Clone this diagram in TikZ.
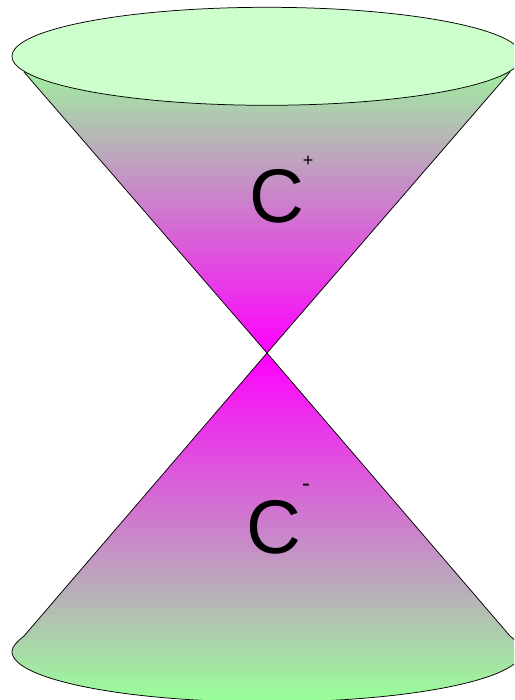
\documentclass[tikz,border=0pt]{standalone}
\usepackage{fontspec}
\setmainfont{Liberation Sans}
\definecolor{rimfill}{HTML}{CCFFCC}
\definecolor{conegreen}{HTML}{99FF99}
\definecolor{conemag}{HTML}{FF00FF}
\tikzset{
  outline/.style={draw=black,line width=0.75pt},
  bigletter/.style={inner sep=0pt,font=\fontsize{76}{76}\selectfont},
  smallsign/.style={inner sep=0pt,font=\fontsize{18}{18}\selectfont},
  dashsign/.style={inner sep=0pt,font=\fontsize{24}{24}\selectfont}
}
\begin{document}
\begin{tikzpicture}[x=1pt,y=-1pt]
\useasboundingbox (0,0) rectangle (514,700);
\clip (0,0) rectangle (514,700);
\coordinate (apex) at (267,353);
\coordinate (tl) at (24,72);
\coordinate (tr) at (510,72);
\coordinate (bl) at (24,636);
\coordinate (br) at (510,636);
% upper cone
\begin{scope}
  \clip (apex) -- (tl) -- (tr) -- cycle;
  \shade[top color=conegreen,bottom color=conemag] (0,50) rectangle (514,353);
\end{scope}
\draw[outline] (tl) -- (apex) -- (tr);
\draw[outline,fill=rimfill] (267,56.3) ellipse [x radius=255,y radius=49];
% lower cone
\begin{scope}
  \clip (apex) -- (br) .. controls (516,641) and (522,646) .. (522,651.5)
        arc [start angle=0,end angle=180,x radius=255,y radius=50.5]
        .. controls (12,646) and (18,641) .. (bl) -- cycle;
  \shade[top color=conemag,bottom color=conegreen] (0,353) rectangle (514,700);
\end{scope}
\draw[outline] (apex) -- (br) .. controls (516,641) and (522,646) .. (522,651.5)
        arc [start angle=0,end angle=180,x radius=255,y radius=50.5]
        .. controls (12,646) and (18,641) .. (bl) -- cycle;
% labels
\node[bigletter,anchor=base] (cplus) at (277,223) {C};
\node[smallsign] (plus) at (308,161.5) {+};
\node[bigletter,anchor=base] (cminus) at (273.5,553) {C};
\node[dashsign] (minus) at (306,488) {-};
\end{tikzpicture}
\end{document}
